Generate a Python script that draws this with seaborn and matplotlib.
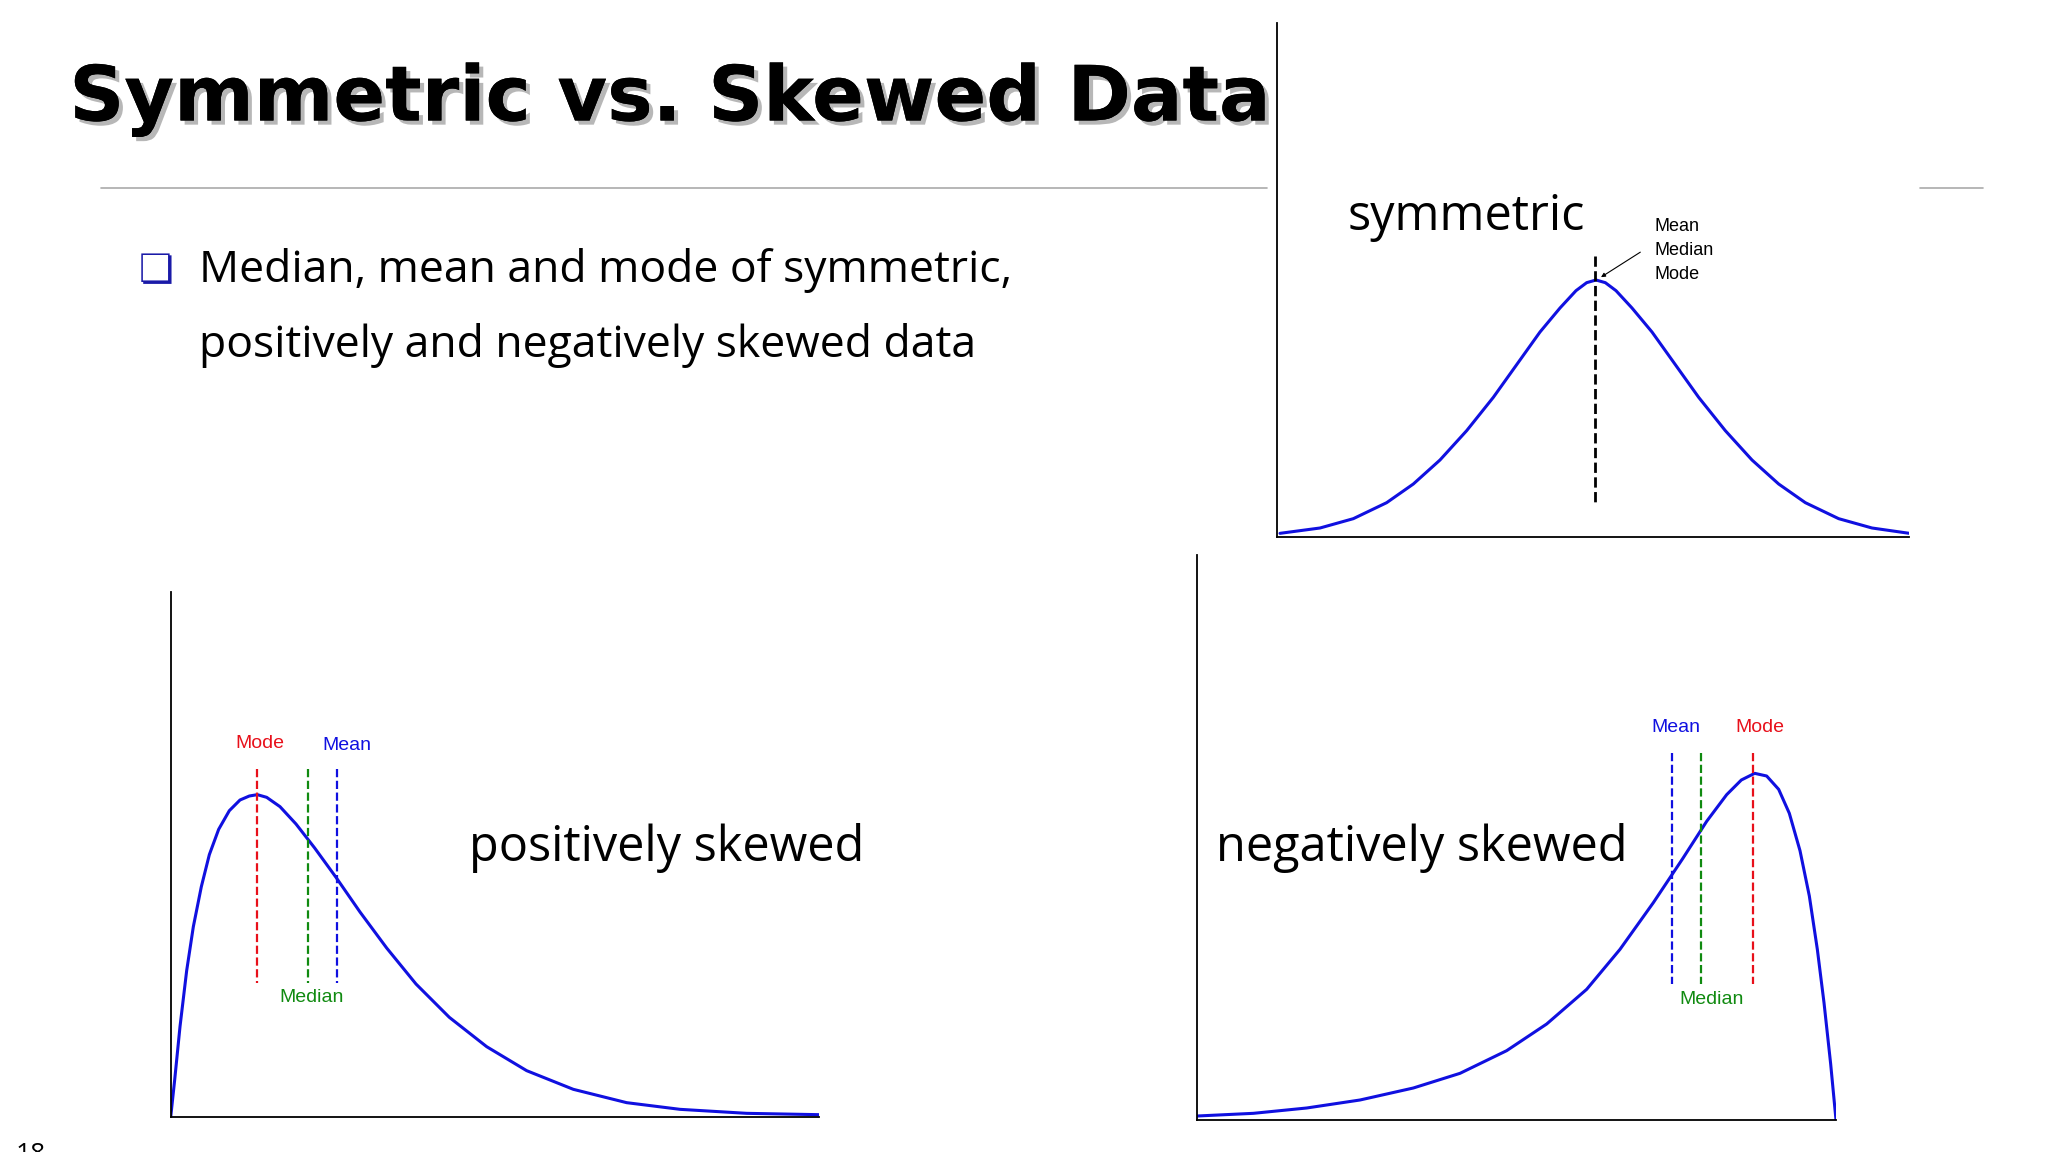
import matplotlib
matplotlib.use("Agg")
import matplotlib.pyplot as plt
import seaborn as sns
import pandas as pd
import matplotlib.patheffects as pe

sns.set_theme(style="white")
plt.rcParams['font.family'] = ['Open Sans', 'DejaVu Sans']
plt.rcParams['text.color'] = 'black'

W, H = 1536.0, 864.0

# Curves (reference pixel coordinates)
sym_x = [960, 990, 1015, 1040, 1060, 1080, 1100, 1120, 1140, 1155, 1170, 1182, 1190, 1197, 1204, 1212, 1224, 1239, 1254, 1274, 1294, 1314, 1334, 1354, 1379, 1404, 1432]
sym_y = [400, 396, 389, 377, 363, 345, 323, 298, 270, 249, 231, 218, 212, 210, 212, 218, 231, 249, 270, 298, 323, 345, 363, 377, 389, 396, 400]
pos_x = [128, 131, 135, 140, 145, 151, 157, 164, 172, 180, 187, 193, 200, 210, 222, 236, 252, 270, 290, 312, 337, 365, 395, 430, 470, 510, 560, 614]
pos_y = [838, 810, 770, 728, 695, 665, 641, 622, 608, 600, 597, 596, 598, 605, 618, 636, 658, 684, 711, 738, 763, 785, 803, 817, 827, 832, 835, 836]
neg_x = [898, 940, 980, 1020, 1060, 1095, 1130, 1160, 1190, 1215, 1240, 1262, 1280, 1295, 1306, 1316, 1325, 1334, 1342, 1350, 1357, 1363, 1368, 1373, 1377]
neg_y = [837, 835, 831, 825, 816, 805, 788, 768, 742, 712, 677, 644, 616, 596, 585, 580, 582, 592, 610, 638, 672, 712, 752, 798, 840]

pos_marks = {"Mode": 193, "Median": 231, "Mean": 253}
neg_marks = {"Mean": 1254, "Median": 1276, "Mode": 1315}
mark_colors = {"Mode": "#e8101a", "Median": "#108a10", "Mean": "#1010e0"}

fig = plt.figure(figsize=(20.48, 11.52), dpi=100)
fig.patch.set_facecolor("white")

def fx(px): return px / W
def fy(py): return 1 - py / H

def make_ax(x0, y0, x1, y1):
    ax = fig.add_axes([fx(x0), fy(y1), fx(x1) - fx(x0), (y1 - y0) / H])
    ax.set_xlim(x0, x1)
    ax.set_ylim(y1, y0)
    ax.set_facecolor("none")
    for s in ["top", "right"]:
        ax.spines[s].set_visible(False)
    for s in ["left", "bottom"]:
        ax.spines[s].set_color("black")
        ax.spines[s].set_linewidth(1.3)
    ax.set_xticks([]); ax.set_yticks([])
    return ax

def curve(ax, xs, ys):
    df = pd.DataFrame({"x": xs, "y": ys})
    sns.lineplot(data=df, x="x", y="y", ax=ax, sort=False, color="#1010e0", lw=2.2, estimator=None)
    ax.set_xlabel(""); ax.set_ylabel("")

lab = dict(fontsize=14, family="Liberation Sans", ha="center", va="center")

# symmetric
ax1 = make_ax(958, 17, 1432, 403)
curve(ax1, sym_x, sym_y)
ax1.plot([1196, 1196], [192, 378], ls="--", color="black", lw=2)
ax1.text(1100, 163, "symmetric", fontsize=35, ha="center", va="center")
for i, t in enumerate(["Mean", "Median", "Mode"]):
    ax1.text(1241, 170 + i * 18, t, fontsize=13, family="Liberation Sans", va="center")
ax1.annotate("", xy=(1199, 209), xytext=(1232, 188),
             arrowprops=dict(arrowstyle="-|>", color="black", lw=0.8, mutation_scale=6))

# positive
ax2 = make_ax(128, 444, 614, 838)
curve(ax2, pos_x, pos_y)
for k, x in pos_marks.items():
    ax2.plot([x, x], [577, 737], ls="--", color=mark_colors[k], lw=1.6)
ax2.text(195, 558, "Mode", color=mark_colors["Mode"], **lab)
ax2.text(260, 559, "Mean", color=mark_colors["Mean"], **lab)
ax2.text(234, 748, "Median", color=mark_colors["Median"], **lab)
ax2.text(500, 636, "positively skewed", fontsize=35, ha="center", va="center")

# negative
ax3 = make_ax(898, 416, 1377, 840)
curve(ax3, neg_x, neg_y)
for k, x in neg_marks.items():
    ax3.plot([x, x], [565, 738], ls="--", color=mark_colors[k], lw=1.6)
ax3.text(1257, 546, "Mean", color=mark_colors["Mean"], **lab)
ax3.text(1320, 546, "Mode", color=mark_colors["Mode"], **lab)
ax3.text(1284, 750, "Median", color=mark_colors["Median"], **lab)
ax3.text(1066, 636, "negatively skewed", fontsize=35, ha="center", va="center")

# slide decorations
fig.add_artist(plt.Line2D([fx(76), fx(950)], [fy(141), fy(141)], color="#aaaaaa", lw=1.2))
fig.add_artist(plt.Line2D([fx(1440), fx(1487)], [fy(141), fy(141)], color="#aaaaaa", lw=1.2))
fig.text(fx(52), fy(75), "Symmetric vs. Skewed Data", fontsize=55, fontweight="black",
         family="DejaVu Sans", va="center", ha="left", color="black",
         path_effects=[pe.withSimplePatchShadow(offset=(3, -3), shadow_rgbFace="#888888", alpha=0.6), pe.Normal()])
fig.text(fx(104), fy(203), "\u274F", fontsize=28, color="#1a1aa8", family="DejaVu Sans", va="center", fontweight="bold")
fig.text(fx(149), fy(203), "Median, mean and mode of symmetric,", fontsize=32, va="center")
fig.text(fx(149), fy(259), "positively and negatively skewed data", fontsize=32, va="center")
fig.text(fx(12), fy(866), "18", fontsize=19, va="center")

fig.savefig("out.png", dpi=100, facecolor="white")
